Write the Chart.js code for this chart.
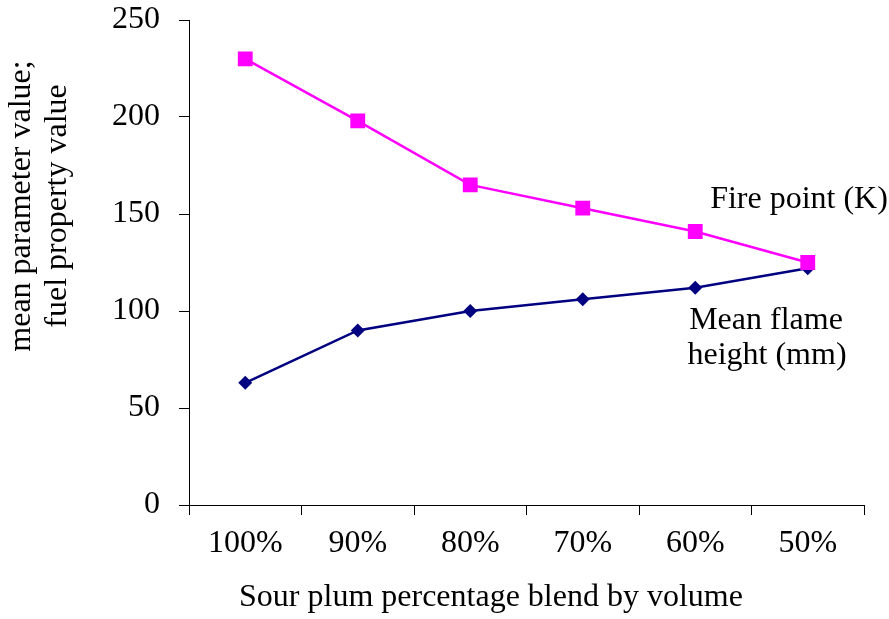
<!DOCTYPE html>
<html>
<head>
<meta charset="utf-8">
<script src="https://cdn.jsdelivr.net/npm/chart.js@4"></script>
<style>
  html, body { margin: 0; padding: 0; background: #fff; }
  #wrap { width: 889px; height: 619px; }
</style>
</head>
<body>
<div id="wrap"><canvas id="chart" width="889" height="619"></canvas></div>
<script>
const blends = ['100%', '90%', '80%', '70%', '60%', '50%'];
const firePoint = [230, 198, 165, 153, 141, 125];
const flameHeight = [63, 90, 100, 106, 112, 122];
const yTicks = [0, 50, 100, 150, 200, 250];

const FONT = '"Liberation Serif", "Times New Roman", serif';
const FS = 32;

// axis titles and series labels, drawn as text on the canvas
const textLabels = {
    id: 'textLabels',
    afterDraw(chart) {
        const ctx = chart.ctx;
        ctx.save();
        ctx.fillStyle = '#000';
        ctx.font = FS + 'px ' + FONT;
        ctx.textAlign = 'center';
        ctx.textBaseline = 'middle';
        ctx.fillText('Sour plum percentage blend by volume', 491, 598);
        ctx.fillText('Fire point (K)', 799, 200);
        ctx.fillText('Mean flame', 766, 321);
        ctx.fillText('height (mm)', 767, 356);
        ctx.translate(22, 206);
        ctx.rotate(-Math.PI / 2);
        ctx.fillText('mean parameter value;', 0, 0);
        ctx.fillText('fuel property value', 0, 36);
        ctx.restore();
    }
};

function renderChart() {
    const ctx = document.getElementById('chart').getContext('2d');
    new Chart(ctx, {
        type: 'line',
        data: {
            labels: blends,
            datasets: [
                {
                    label: 'Fire point (K)',
                    data: firePoint,
                    borderColor: '#ff00ff',
                    backgroundColor: '#ff00ff',
                    borderWidth: 2.5,
                    pointStyle: 'rect',
                    pointRadius: 10.5,
                    pointBorderWidth: 0
                },
                {
                    label: 'Mean flame height (mm)',
                    data: flameHeight,
                    borderColor: '#000080',
                    backgroundColor: '#000080',
                    borderWidth: 2.5,
                    pointStyle: 'rectRot',
                    pointRadius: 7,
                    pointBorderWidth: 0
                }
            ]
        },
        options: {
            responsive: false,
            animation: false,
            layout: { padding: { top: 20, right: 25, left: 0, bottom: 0 } },
            plugins: { legend: { display: false }, tooltip: { enabled: false } },
            scales: {
                x: {
                    offset: true,
                    grid: { offset: true, drawOnChartArea: false, tickLength: 10, color: '#000' },
                    border: { color: '#000', width: 1 },
                    ticks: { color: '#000', font: { family: FONT, size: FS }, padding: 9, maxRotation: 0 },
                    afterFit(scale) { scale.height = 114; }
                },
                y: {
                    min: 0,
                    max: 250,
                    afterBuildTicks(scale) { scale.ticks = yTicks.map(v => ({ value: v })); },
                    grid: { drawOnChartArea: false, tickLength: 10, color: '#000' },
                    border: { color: '#000', width: 1 },
                    ticks: { color: '#000', font: { family: FONT, size: FS }, padding: 19 },
                    afterFit(scale) {
                        scale.width = 189;
                        scale.paddingTop = 0;
                        scale.paddingBottom = 0;
                    }
                }
            }
        },
        plugins: [textLabels]
    });
}
renderChart();
</script>
</body>
</html>
